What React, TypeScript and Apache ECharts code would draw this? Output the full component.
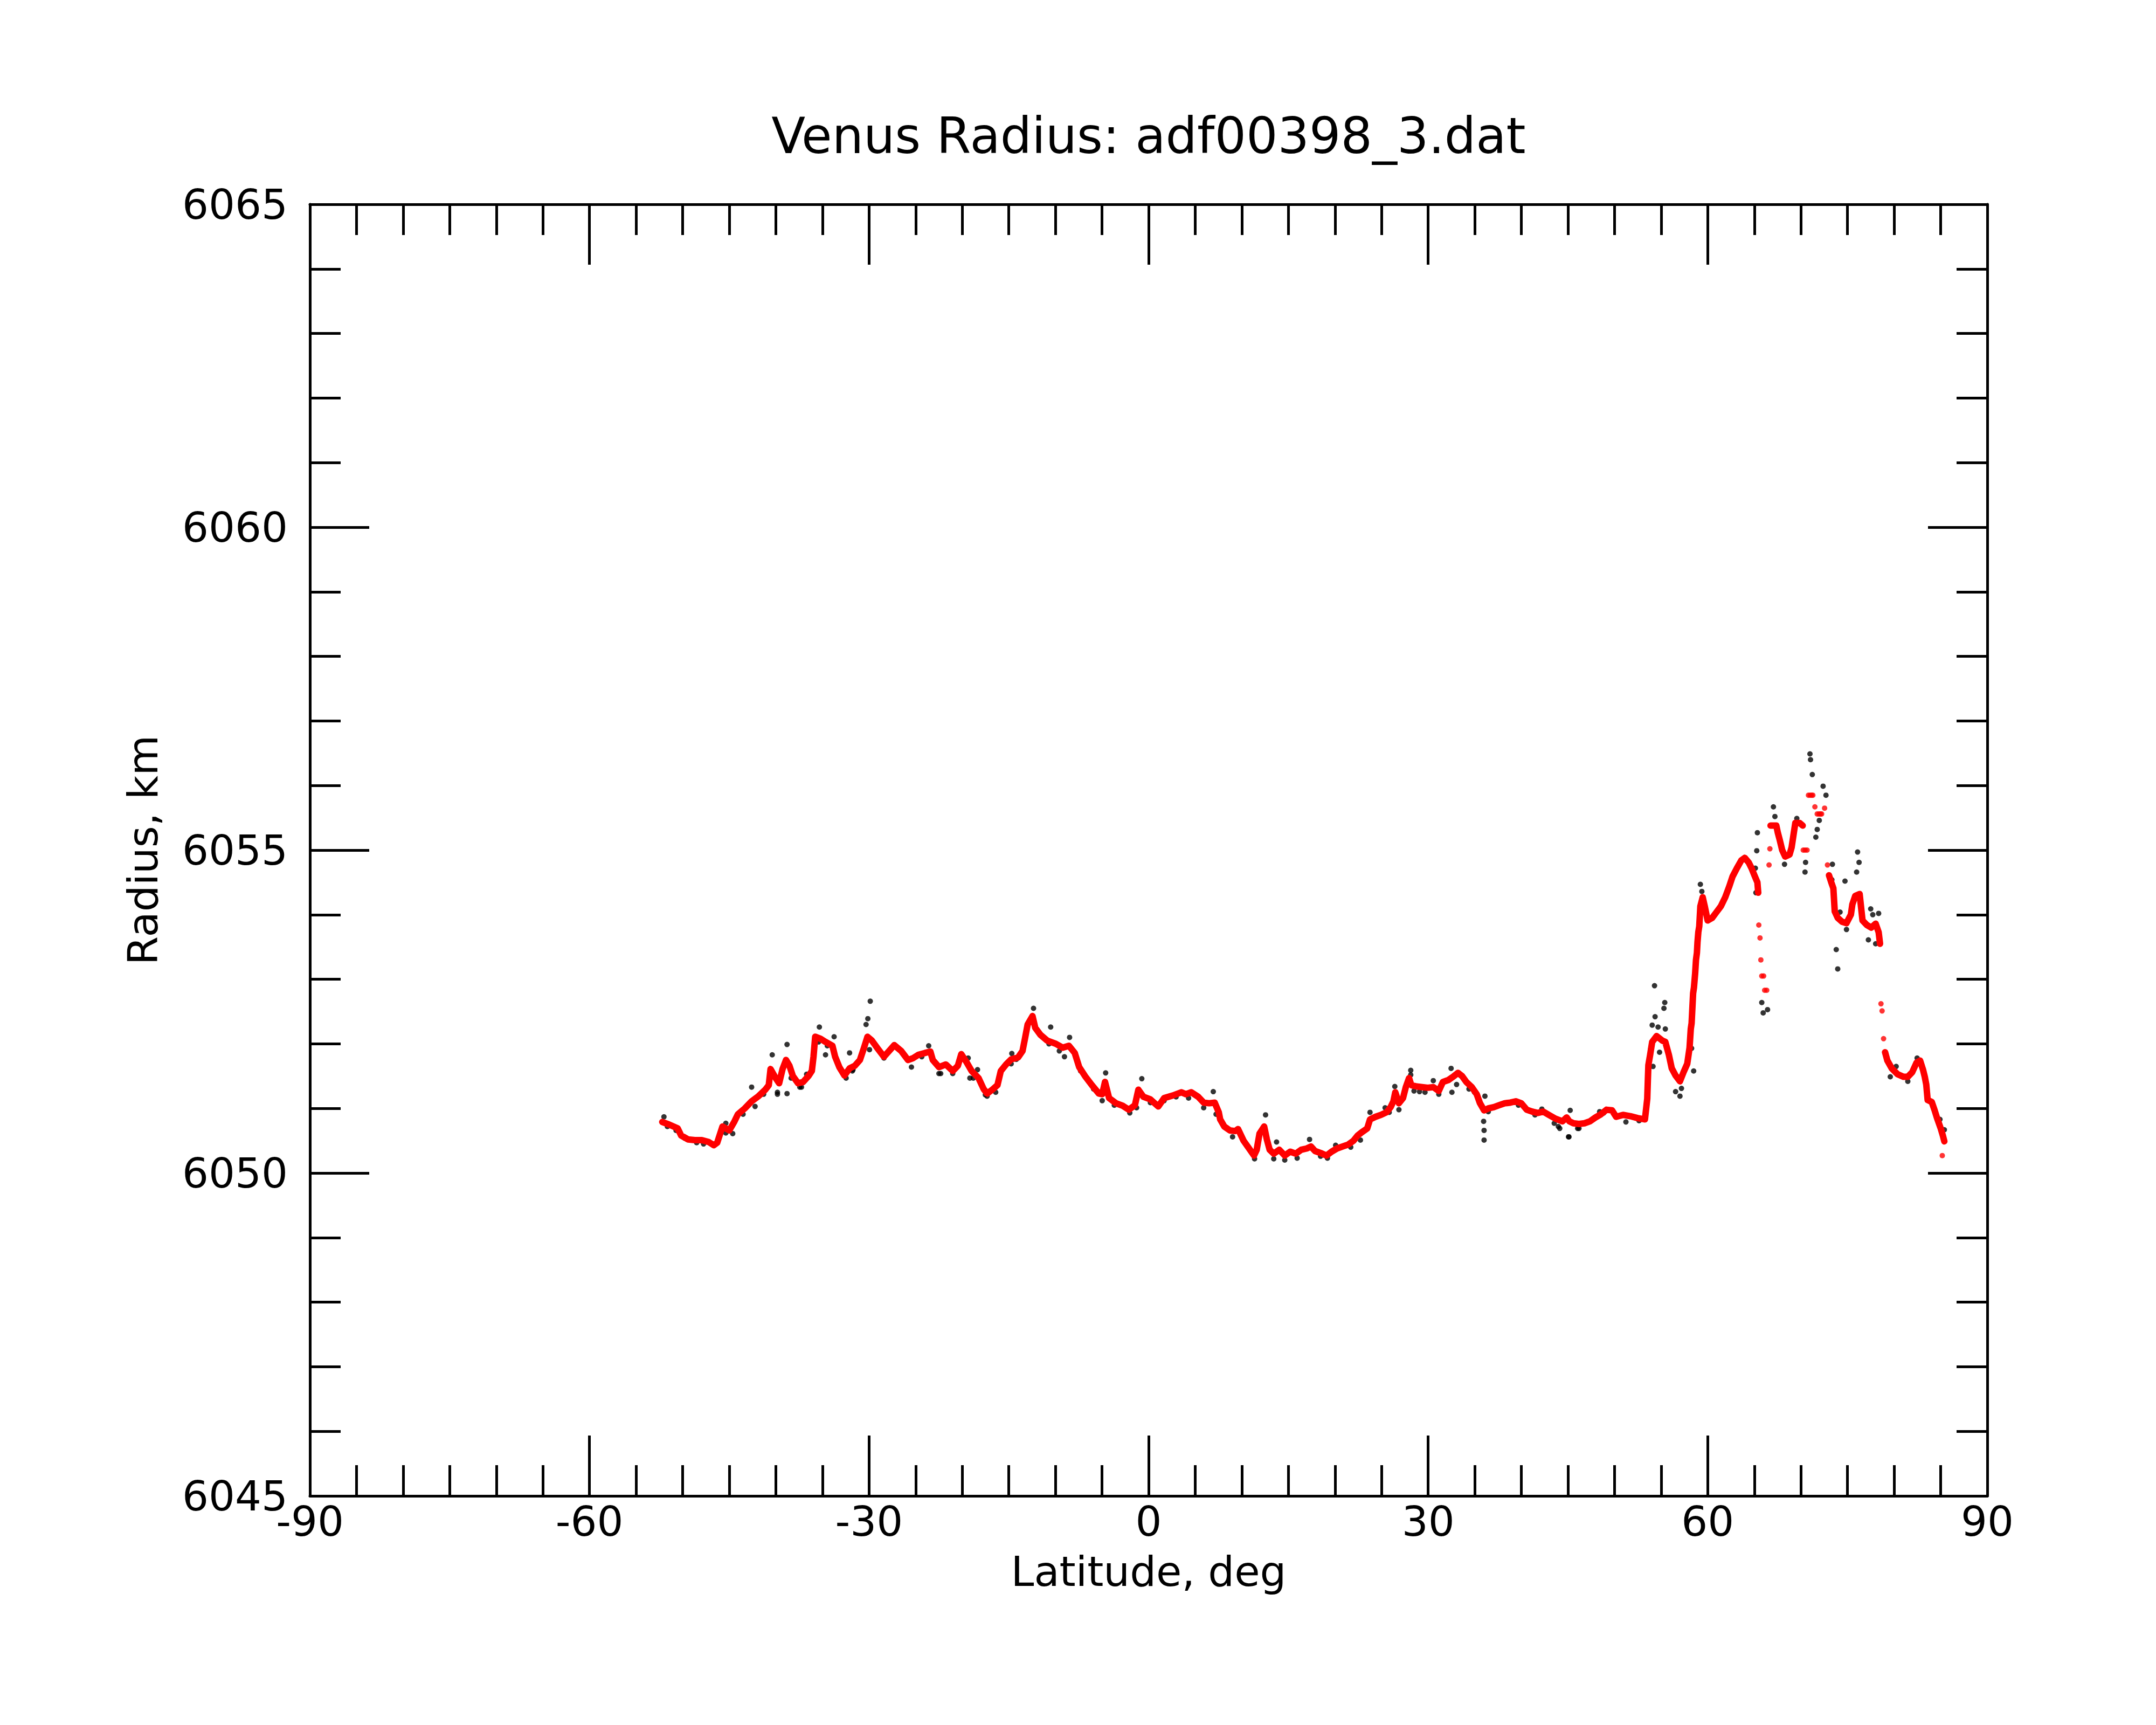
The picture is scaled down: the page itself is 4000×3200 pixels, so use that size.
import React, { useEffect, useRef } from "react";
import * as echarts from "echarts";

const TITLE = "Venus Radius: adf00398_3.dat";
const X_NAME = "Latitude, deg";
const Y_NAME = "Radius, km";
const X_MIN = -90, X_MAX = 90, X_STEP = 30;
const Y_MIN = 6045, Y_MAX = 6065, Y_STEP = 5;

// Smoothed profile (red), continuous segments: [latitude, radius]
const redSegA: number[][] = [
  [-52.19, 6050.79], [-51.45, 6050.75], [-50.53, 6050.69], [-50.16, 6050.58], [-49.42, 6050.52],
  [-48.69, 6050.51], [-47.95, 6050.51], [-47.21, 6050.48], [-46.66, 6050.43], [-46.29, 6050.47],
  [-45.73, 6050.72], [-45.0, 6050.66], [-44.44, 6050.8], [-44.07, 6050.91], [-43.34, 6051.0],
  [-42.6, 6051.11], [-41.86, 6051.19], [-41.13, 6051.29], [-40.76, 6051.36], [-40.57, 6051.61],
  [-40.02, 6051.47], [-39.65, 6051.39], [-39.28, 6051.61], [-38.91, 6051.75], [-38.54, 6051.66],
  [-38.17, 6051.5], [-37.62, 6051.39], [-37.07, 6051.41], [-36.51, 6051.5], [-36.14, 6051.58],
  [-35.96, 6051.8], [-35.78, 6052.11], [-35.22, 6052.08], [-34.67, 6052.03], [-33.93, 6051.97],
  [-33.64, 6051.8], [-33.19, 6051.64], [-32.64, 6051.51], [-32.09, 6051.62], [-31.53, 6051.66],
  [-30.98, 6051.75], [-30.54, 6051.94], [-30.17, 6052.11], [-29.69, 6052.05], [-29.14, 6051.94],
  [-28.4, 6051.8], [-27.84, 6051.89], [-27.29, 6051.98], [-26.55, 6051.89], [-25.82, 6051.75],
  [-25.26, 6051.78], [-24.71, 6051.83], [-23.97, 6051.86], [-23.42, 6051.88], [-23.16, 6051.75],
  [-22.5, 6051.64], [-21.76, 6051.68], [-21.02, 6051.58], [-20.47, 6051.66], [-20.1, 6051.84],
  [-19.55, 6051.72], [-18.99, 6051.58], [-18.25, 6051.47], [-17.7, 6051.3], [-17.33, 6051.23],
  [-16.78, 6051.29], [-16.22, 6051.36], [-15.86, 6051.58], [-15.3, 6051.68], [-14.75, 6051.76],
  [-14.01, 6051.79], [-13.53, 6051.89], [-13.27, 6052.08], [-12.98, 6052.3], [-12.46, 6052.43],
  [-12.17, 6052.25], [-11.61, 6052.14], [-10.88, 6052.05], [-9.95, 6052.0], [-9.22, 6051.94],
  [-8.55, 6051.97], [-7.93, 6051.86], [-7.45, 6051.64], [-6.82, 6051.5], [-6.08, 6051.36],
  [-5.34, 6051.23], [-4.98, 6051.22], [-4.68, 6051.41], [-4.24, 6051.16], [-3.5, 6051.08],
  [-2.76, 6051.04], [-2.13, 6050.98], [-1.47, 6051.05], [-1.1, 6051.29], [-0.55, 6051.18],
  [0.19, 6051.14], [1.04, 6051.03], [1.66, 6051.16], [2.59, 6051.2], [3.51, 6051.25],
  [3.99, 6051.22], [4.58, 6051.25], [5.32, 6051.18], [5.91, 6051.09], [6.5, 6051.08],
  [7.09, 6051.09], [7.53, 6050.94], [7.68, 6050.83], [8.12, 6050.72], [8.71, 6050.66],
  [9.3, 6050.65], [9.6, 6050.68], [10.19, 6050.5], [10.78, 6050.38], [11.31, 6050.27],
  [11.6, 6050.36], [11.9, 6050.61], [12.4, 6050.72], [12.69, 6050.52], [12.99, 6050.36],
  [13.43, 6050.3], [14.02, 6050.36], [14.61, 6050.27], [15.2, 6050.33], [15.79, 6050.3],
  [16.38, 6050.36], [16.97, 6050.38], [17.42, 6050.41], [17.86, 6050.34], [18.45, 6050.31],
  [19.1, 6050.27], [19.63, 6050.33], [20.22, 6050.38], [20.81, 6050.41], [21.4, 6050.44],
  [21.99, 6050.5], [22.43, 6050.58], [22.87, 6050.63], [23.46, 6050.69], [23.76, 6050.83],
  [24.35, 6050.87], [24.94, 6050.9], [25.53, 6050.94], [25.97, 6051.02], [26.27, 6051.11],
  [26.47, 6051.25], [26.86, 6051.08], [27.3, 6051.16], [27.6, 6051.33], [27.95, 6051.47],
  [28.19, 6051.36], [28.78, 6051.34], [29.37, 6051.33], [29.96, 6051.32], [30.55, 6051.33],
  [31.14, 6051.27], [31.58, 6051.41], [32.17, 6051.44], [32.76, 6051.5], [33.2, 6051.55],
  [33.64, 6051.5], [34.09, 6051.41], [34.68, 6051.33], [35.21, 6051.22], [35.56, 6051.08],
  [36.0, 6050.97], [36.45, 6051.0], [37.04, 6051.02], [37.63, 6051.05], [38.22, 6051.08],
  [38.81, 6051.09], [39.4, 6051.11], [39.99, 6051.08], [40.58, 6050.98], [41.17, 6050.95],
  [41.76, 6050.93], [42.35, 6050.95], [42.94, 6050.9], [43.68, 6050.84], [44.41, 6050.8],
  [44.86, 6050.86], [45.15, 6050.8], [45.59, 6050.77], [46.18, 6050.76], [46.77, 6050.77],
  [47.36, 6050.8], [47.95, 6050.86], [48.55, 6050.91], [49.14, 6050.98], [49.73, 6050.97],
  [50.17, 6050.87], [50.91, 6050.9], [51.69, 6050.88], [52.47, 6050.85], [53.26, 6050.83],
  [53.51, 6051.15], [53.57, 6051.42], [53.63, 6051.67], [53.82, 6051.83], [54.04, 6052.03],
  [54.51, 6052.12], [55.14, 6052.05], [55.45, 6052.03], [55.83, 6051.83], [56.14, 6051.62],
  [56.55, 6051.51], [57.02, 6051.42], [57.4, 6051.56], [57.8, 6051.69], [58.05, 6051.94],
  [58.18, 6052.23], [58.27, 6052.32], [58.43, 6052.78], [58.52, 6052.87], [58.65, 6053.09],
  [58.74, 6053.3], [58.84, 6053.41], [58.9, 6053.57], [58.99, 6053.73], [59.09, 6053.82],
  [59.21, 6054.13], [59.46, 6054.27], [59.68, 6054.13], [59.99, 6053.91], [60.47, 6053.95],
  [60.94, 6054.04], [61.41, 6054.13], [61.88, 6054.27], [62.29, 6054.43], [62.66, 6054.59],
  [63.13, 6054.72], [63.6, 6054.84], [63.98, 6054.88], [64.39, 6054.81], [64.7, 6054.72],
  [65.01, 6054.61], [65.33, 6054.5], [65.42, 6054.34],
];
const redSegB: number[][] = [
  [66.74, 6055.38], [67.36, 6055.38], [67.52, 6055.27], [67.74, 6055.15], [67.99, 6055.0],
  [68.31, 6054.9], [68.78, 6054.93], [69.0, 6055.04], [69.24, 6055.27], [69.4, 6055.42],
  [69.87, 6055.42], [70.19, 6055.38],
];
const redSegC: number[][] = [
  [73.01, 6054.61], [73.26, 6054.5], [73.48, 6054.41], [73.63, 6054.05], [73.95, 6053.95],
  [74.42, 6053.89], [74.89, 6053.87], [75.36, 6054.0], [75.52, 6054.16], [75.83, 6054.29],
  [76.3, 6054.32], [76.61, 6053.91], [77.08, 6053.84], [77.55, 6053.8], [78.02, 6053.86],
  [78.34, 6053.73], [78.49, 6053.55],
];
const redSegD: number[][] = [
  [79.03, 6051.87], [79.28, 6051.74], [79.75, 6051.62], [80.37, 6051.53], [81.0, 6051.49],
  [81.47, 6051.49], [81.94, 6051.56], [82.41, 6051.71], [82.79, 6051.74], [83.1, 6051.6],
  [83.29, 6051.49], [83.45, 6051.37], [83.6, 6051.13], [84.04, 6051.1], [84.35, 6050.97],
  [84.61, 6050.85], [84.98, 6050.7], [85.23, 6050.58], [85.39, 6050.49],
];
// Isolated red points
const redDots: number[][] = [
  [65.48, 6053.84], [65.61, 6053.64], [65.7, 6053.3], [65.8, 6053.05], [66.0, 6053.05],
  [66.11, 6052.83], [66.33, 6052.83], [66.58, 6054.77], [66.67, 6055.02],
  [70.25, 6055.0], [70.45, 6055.0], [70.66, 6055.0],
  [70.81, 6055.85], [71.0, 6055.85], [71.15, 6055.85], [71.28, 6055.85],
  [71.5, 6055.67], [71.75, 6055.56], [71.95, 6055.56], [72.1, 6055.56], [72.22, 6055.56],
  [72.54, 6055.65], [72.85, 6054.77],
  [78.59, 6052.62], [78.71, 6052.51], [78.87, 6052.08], [85.17, 6050.27],
];

// Raw profile samples (black)
const blackPts: number[][] = [
  [-52.01, 6050.87], [-51.64, 6050.72], [-50.71, 6050.66], [-49.79, 6050.54], [-48.5, 6050.47],
  [-47.76, 6050.45], [-45.37, 6050.62], [-45.37, 6050.77], [-44.63, 6050.61], [-43.52, 6050.91],
  [-42.6, 6051.33], [-42.23, 6051.03], [-41.31, 6051.22], [-40.39, 6051.83], [-39.83, 6051.22],
  [-39.83, 6051.25], [-38.8, 6051.99], [-38.8, 6051.23], [-38.36, 6051.47], [-37.43, 6051.33],
  [-37.25, 6051.33], [-36.7, 6051.53], [-35.41, 6052.03], [-35.33, 6052.26], [-34.67, 6051.83],
  [-34.48, 6051.97], [-33.75, 6052.11], [-32.46, 6051.47], [-32.09, 6051.86], [-31.79, 6051.58],
  [-31.72, 6051.6], [-30.32, 6052.3], [-30.13, 6052.39], [-29.87, 6052.66], [-29.95, 6051.91],
  [-28.4, 6051.78], [-25.45, 6051.64], [-24.34, 6051.8], [-23.6, 6051.97], [-22.5, 6051.54],
  [-22.31, 6051.54], [-21.02, 6051.54], [-19.36, 6051.78], [-19.18, 6051.47], [-18.81, 6051.47],
  [-18.36, 6051.6], [-17.52, 6051.21], [-17.33, 6051.19], [-16.41, 6051.25], [-14.75, 6051.69],
  [-14.68, 6051.85], [-14.2, 6051.76], [-12.35, 6052.55], [-10.69, 6052.0], [-10.51, 6052.26],
  [-9.58, 6051.89], [-9.03, 6051.8], [-8.48, 6052.1], [-7.3, 6051.58], [-5.9, 6051.3],
  [-4.98, 6051.12], [-4.61, 6051.55], [-3.68, 6051.05], [-2.02, 6050.93], [-1.29, 6051.01],
  [-0.73, 6051.46], [0.19, 6051.09], [1.66, 6051.12], [2.95, 6051.18],
  [4.29, 6051.16], [5.91, 6051.01], [6.94, 6051.26], [7.24, 6050.91], [9.01, 6050.56],
  [11.37, 6050.22], [12.55, 6050.9], [13.43, 6050.22], [13.73, 6050.48], [14.61, 6050.2],
  [15.94, 6050.23], [17.27, 6050.52], [18.45, 6050.26], [19.19, 6050.23], [20.07, 6050.43],
  [21.69, 6050.4], [22.73, 6050.51], [23.76, 6050.94], [25.38, 6051.01], [25.82, 6050.94],
  [26.42, 6051.34], [26.86, 6050.98], [28.13, 6051.59], [28.13, 6051.52], [28.48, 6051.27],
  [29.07, 6051.26], [29.66, 6051.25], [30.55, 6051.43], [31.14, 6051.22], [32.46, 6051.62],
  [32.55, 6051.25], [33.05, 6051.37], [34.38, 6051.3], [34.97, 6051.25], [36.09, 6051.19],
  [35.95, 6050.8], [36.0, 6050.66], [36.0, 6050.51], [36.45, 6050.95], [39.69, 6051.05],
  [41.46, 6050.9], [42.2, 6050.99], [43.53, 6050.77], [43.97, 6050.72], [44.12, 6050.69],
  [45.11, 6050.56], [45.24, 6050.97], [45.06, 6050.56], [46.04, 6050.69], [46.18, 6050.69],
  [48.4, 6050.95], [48.84, 6050.93], [51.22, 6050.79], [52.63, 6050.81],
  [53.88, 6051.92], [54.04, 6052.29], [54.13, 6051.65], [54.29, 6052.9], [54.35, 6052.42],
  [54.67, 6052.26], [54.83, 6051.87], [55.3, 6052.55], [55.39, 6052.64], [55.45, 6052.23],
  [56.55, 6051.26], [57.02, 6051.19], [57.18, 6051.31], [58.27, 6051.93], [58.49, 6051.58],
  [59.21, 6054.47], [59.37, 6054.36], [65.11, 6054.72], [65.17, 6054.34], [65.26, 6054.99],
  [65.33, 6055.27], [65.8, 6052.64], [65.95, 6052.48], [66.42, 6052.53], [67.05, 6055.67],
  [67.21, 6055.52], [68.24, 6054.78], [69.56, 6055.49], [70.44, 6054.66], [70.5, 6054.81],
  [70.97, 6056.49], [71.03, 6056.4], [71.22, 6056.17], [71.6, 6055.2], [71.75, 6055.32],
  [71.97, 6055.46], [72.38, 6055.99], [72.69, 6055.85], [73.32, 6054.54], [73.38, 6054.78],
  [73.79, 6053.46], [73.95, 6053.16], [74.2, 6054.04], [74.73, 6054.52], [74.89, 6053.77],
  [75.98, 6054.66], [76.08, 6054.97], [76.24, 6054.81], [77.24, 6053.61], [77.49, 6054.09],
  [77.71, 6054.0], [78.02, 6053.55], [78.34, 6054.02], [79.59, 6051.49], [80.22, 6051.65],
  [81.47, 6051.42], [82.47, 6051.78], [84.92, 6050.83], [85.39, 6050.67],
];

const FONT = "DejaVu Sans";
const BLACK = "#000000";
const RED = "#ff0000";

function axisBase(extra: any) {
  return {
    type: "value",
    axisLine: { show: true, onZero: false, lineStyle: { color: BLACK, width: 5 } },
    axisTick: { show: true, inside: true, lineStyle: { color: BLACK, width: 5 } },
    minorTick: { show: true, lineStyle: { color: BLACK, width: 5 } },
    splitLine: { show: false },
    minorSplitLine: { show: false },
    ...extra,
  };
}

function redLine(data: number[][]) {
  return {
    type: "line",
    data,
    showSymbol: false,
    smooth: false,
    z: 4,
    lineStyle: { color: RED, width: 12, cap: "round", join: "round" },
    itemStyle: { color: RED },
  };
}

export default function App() {
  const ref = useRef<HTMLDivElement>(null);
  useEffect(() => {
    if (!ref.current) return;
    const chart = echarts.init(ref.current, null, { renderer: "svg" });
    const xLabel = {
      show: true, color: BLACK, fontSize: 77, fontFamily: FONT, margin: 16, lineHeight: 62,
      formatter: (v: number) => String(v),
    };
    const yLabel = {
      show: true, color: BLACK, fontSize: 77, fontFamily: FONT, margin: 41,
      formatter: (v: number) => String(v),
    };
    chart.setOption({
      animation: false,
      backgroundColor: "#ffffff",
      grid: { left: 575, right: 313, top: 379, bottom: 425, containLabel: false },
      xAxis: [
        axisBase({
          position: "bottom", min: X_MIN, max: X_MAX, interval: X_STEP,
          axisTick: { show: true, inside: true, length: 112, lineStyle: { color: BLACK, width: 5 } },
          minorTick: { show: true, splitNumber: 6, length: 57, lineStyle: { color: BLACK, width: 5 } },
          axisLabel: xLabel,
        }),
        axisBase({
          position: "top", min: X_MIN, max: X_MAX, interval: X_STEP,
          axisTick: { show: true, inside: true, length: 112, lineStyle: { color: BLACK, width: 5 } },
          minorTick: { show: true, splitNumber: 6, length: 57, lineStyle: { color: BLACK, width: 5 } },
          axisLabel: { show: false },
        }),
      ],
      yAxis: [
        axisBase({
          position: "left", min: Y_MIN, max: Y_MAX, interval: Y_STEP,
          axisTick: { show: true, inside: true, length: 110, lineStyle: { color: BLACK, width: 5 } },
          minorTick: { show: true, splitNumber: 5, length: 57, lineStyle: { color: BLACK, width: 5 } },
          axisLabel: yLabel,
        }),
        axisBase({
          position: "right", min: Y_MIN, max: Y_MAX, interval: Y_STEP,
          axisTick: { show: true, inside: true, length: 110, lineStyle: { color: BLACK, width: 5 } },
          minorTick: { show: true, splitNumber: 5, length: 57, lineStyle: { color: BLACK, width: 5 } },
          axisLabel: { show: false },
        }),
      ],
      graphic: [
        {
          type: "text", x: 2131, y: 252, z: 10,
          style: { text: TITLE, fill: BLACK, font: `92px "${FONT}"`, align: "center", verticalAlign: "middle" },
        },
        {
          type: "text", x: 2131, y: 2915, z: 10,
          style: { text: X_NAME, fill: BLACK, font: `77px "${FONT}"`, lineHeight: 58, align: "center", verticalAlign: "middle" },
        },
        {
          type: "text", x: 265, y: 1577, rotation: Math.PI / 2, z: 10,
          style: { text: Y_NAME, fill: BLACK, font: `77px "${FONT}"`, align: "center", verticalAlign: "middle" },
        },
      ],
      series: [
        {
          type: "scatter", data: blackPts, symbol: "circle", symbolSize: 10, z: 2,
          itemStyle: { color: BLACK },
        },
        redLine(redSegA),
        redLine(redSegB),
        redLine(redSegC),
        redLine(redSegD),
        {
          type: "scatter", data: redDots, symbol: "circle", symbolSize: 10, z: 5,
          itemStyle: { color: RED },
        },
      ],
    });
    return () => chart.dispose();
  }, []);
  return (
    <div
      ref={ref}
      style={{ position: "absolute", left: 0, top: 0, width: 4000, height: 3200, background: "#fff" }}
    />
  );
}
